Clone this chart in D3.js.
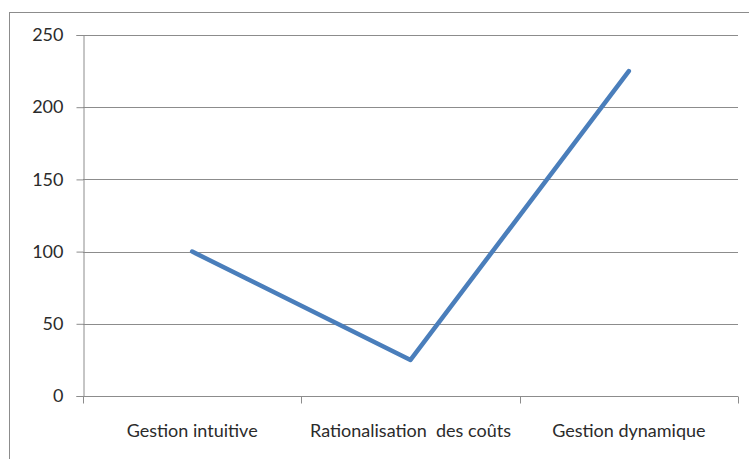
<!DOCTYPE html>
<html>
<head>
<meta charset="utf-8">
<script src="https://cdn.jsdelivr.net/npm/d3@7"></script>
<style>
  html, body { margin: 0; padding: 0; background: #fff; overflow: hidden; }
  svg { display: block; }
  text { font-family: Lato, "Open Sans", sans-serif; fill: #2b2b2b; white-space: pre; }
</style>
</head>
<body>
<svg id="chart" width="749" height="459"></svg>
<script>
// Categories and values of the line series
const categories = ["Gestion intuitive", "Rationalisation  des coûts", "Gestion dynamique"];
const values = [100, 25, 225];
const yTicks = [0, 50, 100, 150, 200, 250];

const svg = d3.select("#chart");
const W = 749, H = 459;
const plot = { left: 83, right: 738, top: 35, bottom: 396 };
const fontSize = "18px";

// Frame around the chart area (runs past the window on the right and bottom)
svg.append("rect")
  .attr("x", 9.5).attr("y", 12.5)
  .attr("width", W + 10).attr("height", H + 10)
  .attr("fill", "none").attr("stroke", "#8c8c8c").attr("stroke-width", 1);

const x = d3.scaleBand().domain(categories).range([plot.left, plot.right]).padding(0);
const y = d3.scaleLinear().domain([0, 250]).range([plot.bottom, plot.top]);

// Horizontal gridlines
svg.append("g")
  .selectAll("line")
  .data(yTicks.filter(d => d > 0))
  .join("line")
  .attr("x1", plot.left).attr("x2", plot.right)
  .attr("y1", d => Math.round(y(d)) + 0.5).attr("y2", d => Math.round(y(d)) + 0.5)
  .attr("stroke", "#8c8c8c").attr("stroke-width", 1);

// Y axis
const yAxis = svg.append("g")
  .attr("transform", `translate(${plot.left + 0.5},0)`)
  .call(d3.axisLeft(y).tickValues(yTicks).tickSize(7).tickPadding(13));
yAxis.attr("font-family", null).attr("font-size", null);
yAxis.selectAll("path, line").attr("stroke", "#8c8c8c");
yAxis.selectAll("text").style("font-size", fontSize).attr("fill", "#2b2b2b");

// X axis with ticks at category boundaries
const xAxisG = svg.append("g").attr("transform", `translate(0,${Math.round(plot.bottom) + 0.5})`);
xAxisG.append("line")
  .attr("x1", plot.left).attr("x2", plot.right)
  .attr("stroke", "#8c8c8c");
const bounds = categories.map(c => x(c)).concat([x(categories[categories.length - 1]) + x.bandwidth()]);
xAxisG.selectAll("line.tick")
  .data(bounds)
  .join("line")
  .attr("class", "tick")
  .attr("x1", d => Math.round(d) + 0.5).attr("x2", d => Math.round(d) + 0.5)
  .attr("y1", 0).attr("y2", 7)
  .attr("stroke", "#8c8c8c");
xAxisG.selectAll("text")
  .data(categories)
  .join("text")
  .attr("x", d => x(d) + x.bandwidth() / 2)
  .attr("y", 40)
  .attr("text-anchor", "middle")
  .style("font-size", fontSize)
  .text(d => d);

// Series line
const line = d3.line()
  .x((d, i) => x(categories[i]) + x.bandwidth() / 2)
  .y(d => y(d));
svg.append("path")
  .datum(values)
  .attr("d", line)
  .attr("fill", "none")
  .attr("stroke", "#4a7ebb")
  .attr("stroke-width", 4.5)
  .attr("stroke-linejoin", "round")
  .attr("stroke-linecap", "round");
</script>
</body>
</html>
